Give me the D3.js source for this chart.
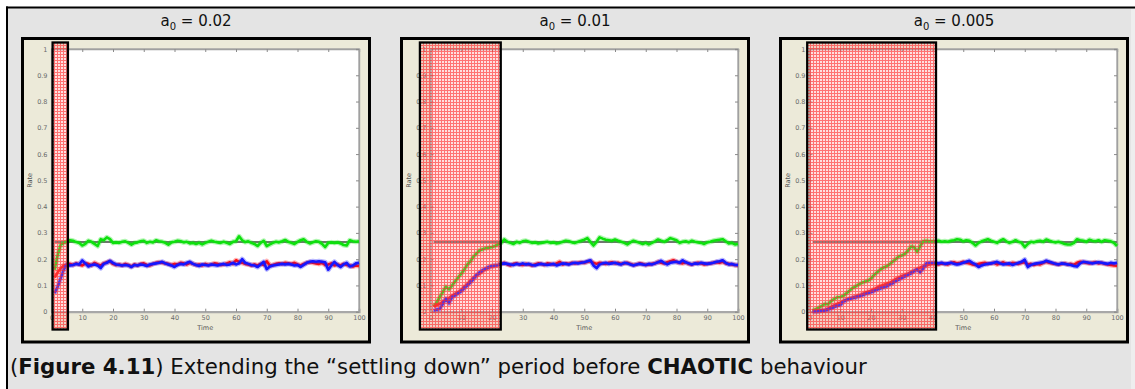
<!DOCTYPE html>
<html>
<head>
<meta charset="utf-8">
<script src="https://cdn.jsdelivr.net/npm/d3@7"></script>
<style>
  body { margin: 0; background: #ffffff; }
  svg { display: block; }
</style>
</head>
<body>
<svg id="chart" width="1135" height="389"></svg>
<script>
// ---- data -------------------------------------------------------------
const panelTitles = ["0.02", "0.01", "0.005"];           // a0 values
const settleWindows = [[0, 5.7], [-3.8, 23.2], [-1.1, 41.5]]; // settling period (time)
const equilibriumRate = [0.265, 0.265, 0.265];
const xTickValues = [0, 10, 20, 30, 40, 50, 60, 70, 80, 90, 100];
const yTickValues = [0, 0.1, 0.2, 0.3, 0.4, 0.5, 0.6, 0.7, 0.8, 0.9, 1];
const yTickLabels = ["0", "0.1", "0.2", "0.3", "0.4", "0.5", "0.6", "0.7", "0.8", "0.9", "1"];

// a0 = 0.02, time 1..100
const green1 = [.160,.215,.255,.262,.266,.272,.270,.265,.262,.252,.258,.270,.266,.258,.250,.276,.272,.283,.276,.262,
  .264,.262,.266,.268,.262,.255,.262,.264,.268,.270,.262,.266,.264,.272,.268,.266,.262,.255,.264,.266,
  .270,.268,.264,.266,.260,.262,.258,.262,.256,.262,.266,.270,.266,.264,.262,.266,.262,.258,.266,.268,
  .287,.272,.265,.268,.262,.258,.250,.262,.270,.250,.256,.262,.266,.264,.268,.273,.266,.262,.258,.266,
  .272,.276,.266,.260,.264,.268,.266,.258,.246,.262,.264,.262,.264,.260,.254,.252,.272,.268,.266,.268];
const red1 = [.130,.150,.165,.176,.180,.182,.178,.184,.180,.176,.184,.182,.176,.186,.180,.176,.184,.188,.192,.182,
  .178,.180,.176,.182,.178,.172,.180,.176,.182,.184,.178,.176,.182,.186,.188,.186,.184,.182,.178,.182,
  .180,.186,.184,.180,.186,.182,.178,.180,.176,.182,.178,.180,.184,.182,.178,.180,.184,.188,.182,.196,
  .190,.186,.182,.180,.176,.180,.176,.182,.178,.192,.176,.178,.182,.184,.182,.186,.184,.182,.186,.180,
  .176,.182,.186,.188,.186,.184,.182,.186,.178,.180,.184,.176,.180,.176,.182,.178,.176,.172,.176,.174];
const blue1 = [.070,.095,.128,.160,.180,.176,.178,.182,.180,.195,.184,.172,.178,.180,.176,.166,.182,.186,.194,.186,
  .180,.178,.176,.178,.176,.170,.178,.176,.180,.178,.174,.180,.182,.184,.186,.190,.184,.180,.176,.170,
  .178,.182,.180,.186,.190,.182,.178,.174,.180,.178,.176,.180,.178,.176,.180,.182,.178,.180,.186,.180,
  .184,.200,.186,.182,.178,.176,.170,.180,.190,.162,.172,.176,.178,.180,.182,.180,.182,.180,.176,.178,
  .170,.178,.186,.190,.192,.190,.192,.190,.188,.160,.176,.190,.178,.170,.180,.186,.172,.176,.184,.186];

// a0 = 0.01
const green2 = [.020,.035,.055,.075,.095,.085,.100,.115,.130,.145,.160,.180,.192,.210,.222,.234,.238,.242,.244,.246,
  .250,.256,.262,.275,.266,.262,.258,.266,.262,.268,.270,.266,.262,.264,.260,.262,.264,.266,.262,.264,
  .260,.262,.266,.270,.268,.264,.262,.266,.270,.274,.280,.266,.252,.266,.283,.278,.274,.272,.270,.275,
  .270,.266,.262,.256,.264,.270,.266,.262,.258,.262,.256,.262,.268,.275,.270,.266,.272,.280,.276,.272,
  .262,.266,.268,.264,.270,.266,.264,.262,.258,.264,.266,.270,.272,.274,.276,.268,.260,.262,.256,.258];
const red2 = [.020,.025,.030,.038,.045,.052,.060,.068,.075,.082,.095,.105,.118,.128,.138,.146,.155,.162,.168,.172,
  .175,.178,.182,.186,.180,.176,.182,.184,.180,.178,.182,.180,.176,.180,.184,.182,.178,.184,.182,.180,
  .184,.190,.180,.184,.182,.186,.184,.186,.188,.186,.190,.192,.186,.182,.186,.184,.182,.186,.188,.184,
  .186,.182,.184,.186,.182,.178,.180,.184,.182,.178,.180,.182,.184,.190,.186,.184,.188,.192,.196,.190,
  .186,.184,.188,.182,.180,.184,.186,.184,.180,.182,.184,.186,.188,.186,.190,.184,.182,.180,.178,.176];
const blue2 = [.005,.008,.010,.030,.050,.032,.055,.062,.070,.078,.090,.100,.112,.125,.140,.150,.158,.165,.170,.174,
  .176,.178,.182,.184,.182,.180,.178,.182,.180,.184,.180,.182,.178,.176,.180,.182,.180,.178,.180,.182,
  .176,.180,.184,.182,.180,.184,.186,.184,.186,.188,.192,.196,.176,.166,.180,.184,.186,.182,.184,.186,
  .182,.180,.186,.184,.180,.176,.180,.182,.180,.178,.182,.180,.184,.188,.194,.186,.180,.186,.188,.190,
  .186,.196,.188,.184,.180,.184,.182,.186,.184,.182,.184,.186,.190,.192,.196,.186,.180,.182,.178,.178];

// a0 = 0.005
const green3 = [.005,.010,.015,.022,.030,.028,.040,.048,.055,.056,.060,.070,.080,.090,.096,.104,.110,.114,.118,.126,
  .140,.150,.160,.168,.172,.180,.190,.200,.210,.214,.220,.232,.248,.246,.228,.250,.268,.270,.268,.268,
  .268,.270,.266,.268,.266,.270,.272,.276,.274,.268,.272,.270,.262,.252,.262,.268,.272,.276,.270,.266,
  .262,.270,.276,.268,.262,.266,.272,.266,.262,.246,.258,.266,.264,.268,.270,.266,.275,.270,.266,.264,
  .266,.262,.258,.256,.256,.262,.276,.272,.270,.266,.274,.270,.268,.272,.266,.272,.270,.268,.262,.250];
const red3 = [.002,.003,.004,.005,.006,.012,.018,.024,.030,.034,.040,.046,.050,.054,.058,.062,.066,.072,.076,.080,
  .086,.092,.098,.102,.106,.110,.116,.124,.130,.136,.140,.145,.150,.155,.162,.168,.172,.176,.180,.182,
  .182,.180,.184,.182,.180,.186,.188,.184,.186,.190,.186,.184,.180,.178,.182,.184,.186,.182,.184,.186,
  .180,.184,.188,.182,.180,.186,.184,.182,.186,.188,.180,.182,.178,.182,.180,.186,.190,.186,.184,.182,
  .180,.182,.184,.180,.182,.178,.186,.190,.188,.186,.184,.186,.188,.184,.186,.182,.180,.178,.176,.175];
const blue3 = [.000,.000,.002,.004,.005,.008,.012,.018,.022,.025,.038,.044,.048,.052,.054,.058,.062,.066,.070,.074,
  .078,.084,.088,.092,.096,.102,.108,.116,.122,.128,.134,.140,.146,.155,.160,.150,.165,.184,.186,.186,
  .186,.184,.186,.182,.184,.186,.182,.180,.182,.186,.190,.194,.186,.180,.170,.176,.180,.182,.184,.186,
  .190,.184,.180,.182,.184,.178,.182,.186,.190,.198,.170,.178,.182,.184,.186,.188,.194,.190,.186,.182,
  .180,.184,.182,.180,.178,.174,.172,.184,.190,.188,.186,.184,.186,.188,.186,.184,.182,.186,.184,.186];

const panelSeries = [
  [green1, red1, blue1],
  [green2, red2, blue2],
  [green3, red3, blue3]
];
const seriesColors = ["#10e010", "#ff1010", "#1414ff"];

// ---- layout -----------------------------------------------------------
const W = 1135, H = 389;
const frameX = [21, 400, 779];
const frameTop = 37, frameW = 350, frameH = 306.5;
const plotOffsetX = 30.5, plotW = 307.5;
const plotTop = 49, plotBottom = 311.7;

const svg = d3.select("#chart");
const defs = svg.append("defs");

// fine red dot-grid used to shade the settling window
const pat = defs.append("pattern")
  .attr("id", "hatch").attr("patternUnits", "userSpaceOnUse")
  .attr("width", 3).attr("height", 3);
pat.append("rect").attr("width", 3).attr("height", 3).attr("fill", "rgba(255,140,140,0.28)");
pat.append("rect").attr("width", 3).attr("height", 1).attr("fill", "rgba(255,40,40,0.6)");
pat.append("rect").attr("y", 1).attr("width", 1).attr("height", 2).attr("fill", "rgba(255,40,40,0.6)");

const soft = defs.append("filter").attr("id", "soft")
  .attr("x", "-20%").attr("y", "-20%").attr("width", "140%").attr("height", "140%");
soft.append("feGaussianBlur").attr("stdDeviation", 0.35);

// page background with the figure box
svg.append("rect").attr("width", W).attr("height", H).attr("fill", "#ffffff");
svg.append("rect").attr("x", 7).attr("y", 7).attr("width", W - 7).attr("height", H - 7).attr("fill", "#e4e4e4");
svg.append("rect").attr("x", 1131).attr("y", 9).attr("width", 4).attr("height", H - 9).attr("fill", "#eeeeee");
svg.append("line").attr("x1", 6).attr("x2", W).attr("y1", 7.5).attr("y2", 7.5)
  .attr("stroke", "#000").attr("stroke-width", 2);
svg.append("line").attr("x1", 7).attr("x2", 7).attr("y1", 6.5).attr("y2", H)
  .attr("stroke", "#000").attr("stroke-width", 2);

const fontMain = "'DejaVu Sans', Verdana, sans-serif";

panelSeries.forEach((series, i) => {
  const fx = frameX[i];
  const g = svg.append("g");

  // title a0 = ...
  const title = g.append("text")
    .attr("x", fx + frameW / 2).attr("y", 25.5)
    .attr("text-anchor", "middle")
    .attr("font-family", fontMain).attr("font-size", 15).attr("fill", "#111");
  title.append("tspan").text("a");
  title.append("tspan").attr("font-size", 10).attr("dy", 4).text("0");
  title.append("tspan").attr("dy", -4).text(" = " + panelTitles[i]);

  // figure frame
  g.append("rect")
    .attr("x", fx + 1.5).attr("y", frameTop + 1.5)
    .attr("width", frameW - 3).attr("height", frameH - 3)
    .attr("fill", "#ecead9").attr("stroke", "#000").attr("stroke-width", 3);

  const x0 = fx + plotOffsetX;
  const x = d3.scaleLinear().domain([0, 100]).range([x0, x0 + plotW]);
  const y = d3.scaleLinear().domain([0, 1]).range([plotBottom, plotTop]);

  // axes area
  g.append("rect")
    .attr("x", x(0)).attr("y", y(1))
    .attr("width", x(100) - x(0)).attr("height", y(0) - y(1))
    .attr("fill", "#ffffff").attr("stroke", "#a0a0a0").attr("stroke-width", 1.2);

  const axisFont = sel => sel.selectAll("text")
    .attr("font-family", fontMain).attr("font-size", 6.5).attr("fill", "#6a6a6a");

  const ax = g.append("g").attr("transform", `translate(0,${y(0)})`)
    .call(d3.axisBottom(x).tickValues(xTickValues).tickSize(-3).tickPadding(4).tickFormat(d3.format("d")));
  const axT = g.append("g").attr("transform", `translate(0,${y(1)})`)
    .call(d3.axisTop(x).tickValues(xTickValues).tickSize(-3).tickFormat(""));
  const ay = g.append("g").attr("transform", `translate(${x(0)},0)`)
    .call(d3.axisLeft(y).tickValues(yTickValues).tickSize(-3).tickPadding(4)
      .tickFormat((d, k) => yTickLabels[k]));
  const ayR = g.append("g").attr("transform", `translate(${x(100)},0)`)
    .call(d3.axisRight(y).tickValues(yTickValues).tickSize(-3).tickFormat(""));
  [ax, axT, ay, ayR].forEach(a => {
    a.select(".domain").attr("stroke", "#a0a0a0").attr("stroke-width", 1.4);
    a.selectAll(".tick line").attr("stroke", "#8a8a8a");
    axisFont(a);
  });
  ax.select(".domain").attr("stroke-width", 2).attr("stroke", "#a8a8a8");

  g.append("text")
    .attr("x", (x(0) + x(100)) / 2).attr("y", 329.5)
    .attr("text-anchor", "middle")
    .attr("font-family", fontMain).attr("font-size", 6.5).attr("fill", "#555")
    .text("Time");
  g.append("text")
    .attr("transform", `translate(${fx + 11},${(y(0) + y(1)) / 2}) rotate(-90)`)
    .attr("text-anchor", "middle")
    .attr("font-family", fontMain).attr("font-size", 6.5).attr("fill", "#555")
    .text("Rate");

  // equilibrium reference
  g.append("line")
    .attr("x1", x(1)).attr("x2", x(100))
    .attr("y1", y(equilibriumRate[i])).attr("y2", y(equilibriumRate[i]))
    .attr("stroke", "#737373").attr("stroke-width", 2);

  const line = d3.line()
    .x((d, k) => x(k + 1))
    .y(d => y(d));

  const lines = g.append("g").attr("filter", "url(#soft)");
  series.forEach((vals, s) => {
    lines.append("path").datum(vals)
      .attr("d", line).attr("fill", "none")
      .attr("stroke", seriesColors[s]).attr("stroke-opacity", 0.3)
      .attr("stroke-width", 5).attr("stroke-linejoin", "round");
    lines.append("path").datum(vals)
      .attr("d", line).attr("fill", "none")
      .attr("stroke", seriesColors[s])
      .attr("stroke-width", 2.6).attr("stroke-linejoin", "round");
  });

  // settling window
  const [s0, s1] = settleWindows[i];
  g.append("rect")
    .attr("x", x(s0) + 1.1).attr("y", 42.5)
    .attr("width", x(s1) - x(s0) - 2.2).attr("height", 287)
    .attr("fill", "url(#hatch)")
    .attr("stroke", "#000").attr("stroke-width", 2.3);
});

// caption
const cap = svg.append("text")
  .attr("x", 10).attr("y", 374)
  .attr("font-family", fontMain).attr("font-size", 18.5).attr("fill", "#111");
cap.append("tspan").text("(");
cap.append("tspan").attr("font-weight", "bold").text("Figure 4.11");
cap.append("tspan").text(") Extending the \u201Csettling down\u201D period before ");
cap.append("tspan").attr("font-weight", "bold").text("CHAOTIC");
cap.append("tspan").text(" behaviour");
// fit caption to its measured line length
const capW = cap.node().getComputedTextLength();
cap.attr("font-size", 18.5 * 857 / capW);
</script>
</body>
</html>
